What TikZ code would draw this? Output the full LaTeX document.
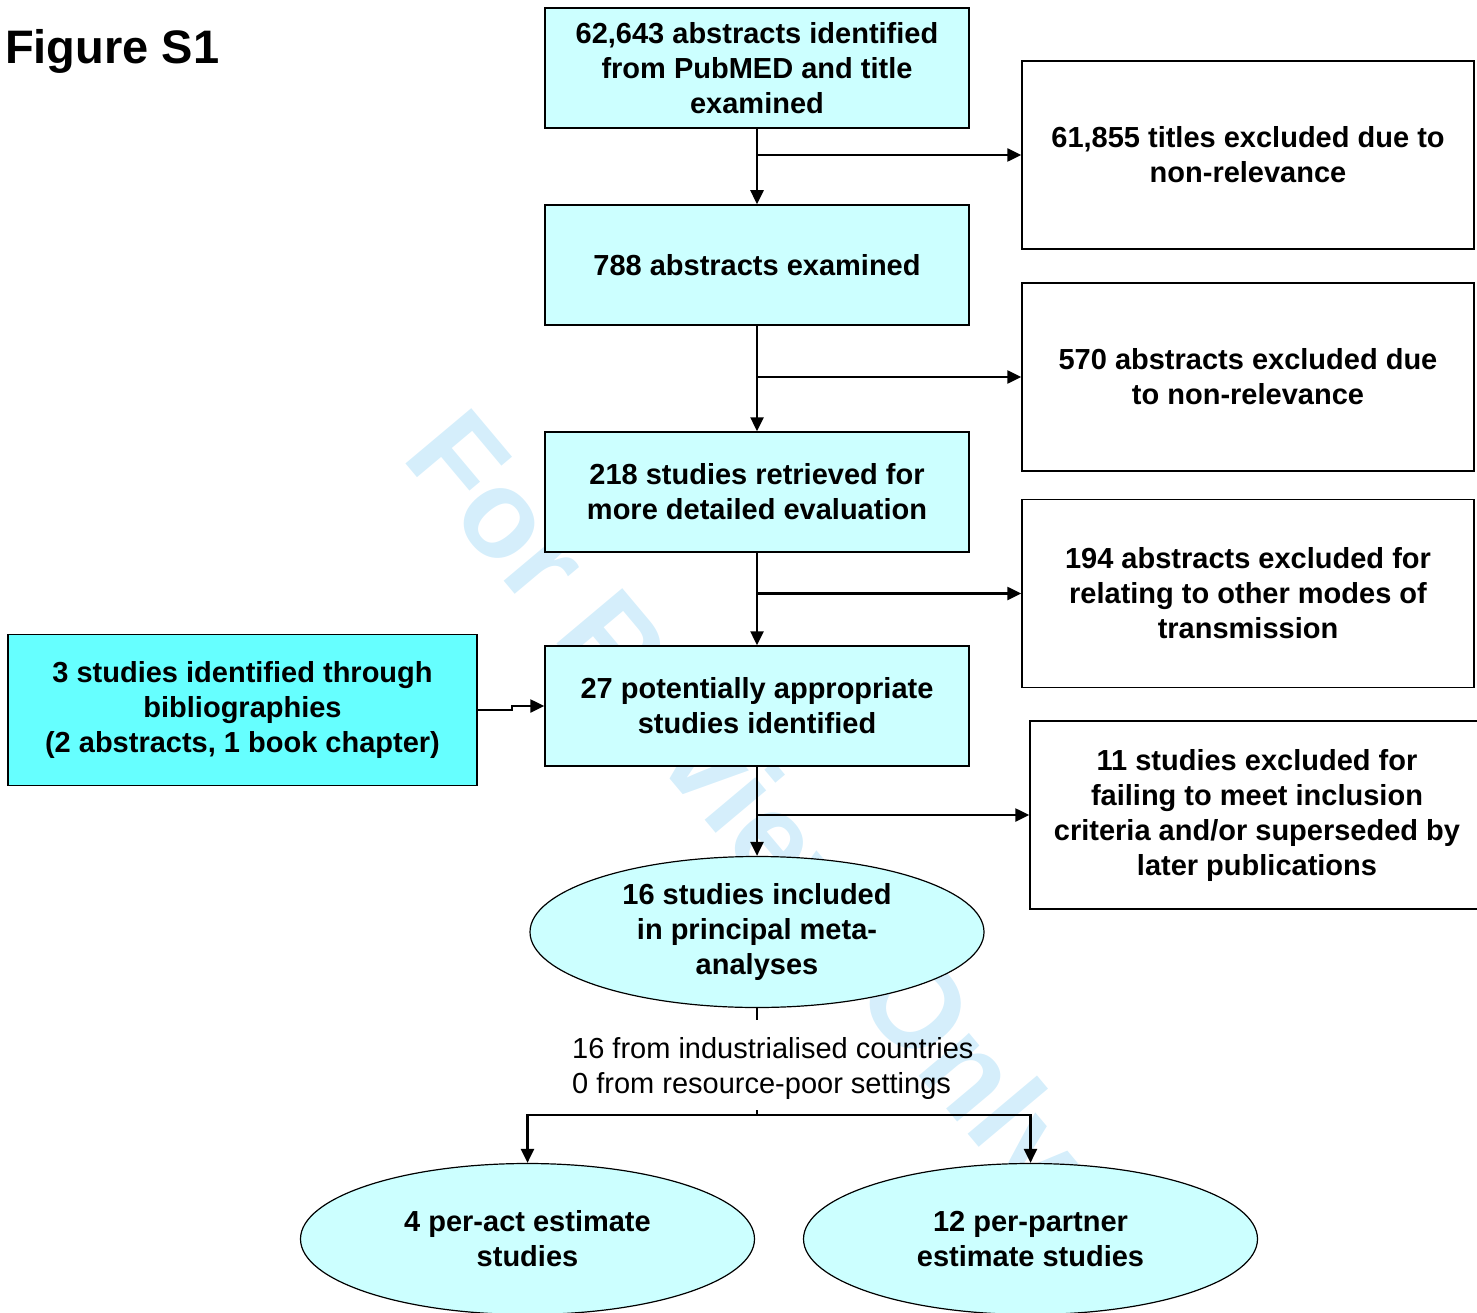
\documentclass[tikz,border=0pt]{standalone}
\usepackage{fontspec}
\setmainfont{Liberation Sans}
\usetikzlibrary{arrows.meta, calc, shapes.geometric}
\definecolor{boxcyan}{RGB}{204,255,255}
\definecolor{sidecyan}{RGB}{102,255,255}
\definecolor{markblue}{RGB}{213,238,251}

\begin{document}
\begin{tikzpicture}[x=1pt, y=-1pt,
    txt/.style={font=\fontsize{29}{35}\selectfont\bfseries, align=center, inner sep=0pt},
    stage/.style={txt, draw, line width=1.5pt, fill=boxcyan, minimum width=424pt, minimum height=120pt},
    excl/.style={txt, draw, line width=1.5pt, fill=white, minimum width=452pt, minimum height=188pt},
    pool/.style={txt, ellipse, draw, line width=1.2pt, fill=boxcyan, minimum width=454pt, minimum height=151pt},
    flow/.style={line width=2.5pt, -{Triangle[length=14pt, width=13pt]}}]
    \useasboundingbox (0,0) rectangle (1477,1313);

    % Watermark behind everything
    \node[rotate=-50, anchor=base west, inner sep=0pt, text=markblue,
          font=\fontsize{125}{125}\selectfont\bfseries] (mark) at (400,457) {For Review Only};

    \node[anchor=west, inner sep=0pt, font=\fontsize{47}{47}\selectfont\bfseries] (title) at (5,51) {Figure S1};

    % Main column
    \node[stage] (abs) at (757,68) {62,643 abstracts identified\\from PubMED and title\\examined};
    \node[stage] (exam) at (757,265) {788 abstracts examined};
    \node[stage] (retr) at (757,492) {218 studies retrieved for\\more detailed evaluation};
    \node[stage] (pot) at (757,706) {27 potentially appropriate\\studies identified};
    \node[stage, fill=sidecyan, minimum width=469pt, minimum height=151pt] (bib) at (242.5,710)
        {3 studies identified through\\bibliographies\\(2 abstracts, 1 book chapter)};

    % Exclusions
    \node[excl] (extitle) at (1248,155) {61,855 titles excluded due to\\non-relevance};
    \node[excl] (exabs) at (1248,377) {570 abstracts excluded due\\to non-relevance};
    \node[excl] (exmode) at (1248,593.5) {194 abstracts excluded for\\relating to other modes of\\transmission};
    \node[excl, minimum width=454pt] (excrit) at (1257,815)
        {11 studies excluded for\\failing to meet inclusion\\criteria and/or superseded by\\later publications};

    % Included studies
    \node[pool] (incl) at (757,932) {16 studies included\\in principal meta-\\analyses};
    \node[anchor=west, align=left, inner sep=0pt, font=\fontsize{29}{35}\selectfont] (origin) at (572,1068.5)
        {16 from industrialised countries\\0 from resource-poor settings};
    \node[pool] (act) at (527.5,1239) {4 per-act estimate\\studies};
    \node[pool] (partner) at (1030.5,1239) {12 per-partner\\estimate studies};

    % Connectors
    \draw[flow] (abs) -- (exam);
    \draw[flow] (abs.south |- extitle.west) -- (extitle);
    \draw[flow] (exam) -- (retr);
    \draw[flow] (exam.south |- exabs.west) -- (exabs);
    \draw[flow] (retr) -- (pot);
    \draw[flow] (retr.south |- exmode.west) -- (exmode);
    \draw[flow] (pot) -- (incl);
    \draw[flow] (pot.south |- excrit.west) -- (excrit);
    \draw[flow] (bib.east) -- ++(34,0) |- (pot.west);

    \coordinate (fork) at (757,1115);
    \draw[line width=2.5pt] (incl.south) -- ++(0,12);
    \draw[line width=2.5pt] (fork) -- ++(0,-5);
    \draw[flow] (fork) -| (act.north);
    \draw[flow] (fork) -| (partner.north);
\end{tikzpicture}
\end{document}
